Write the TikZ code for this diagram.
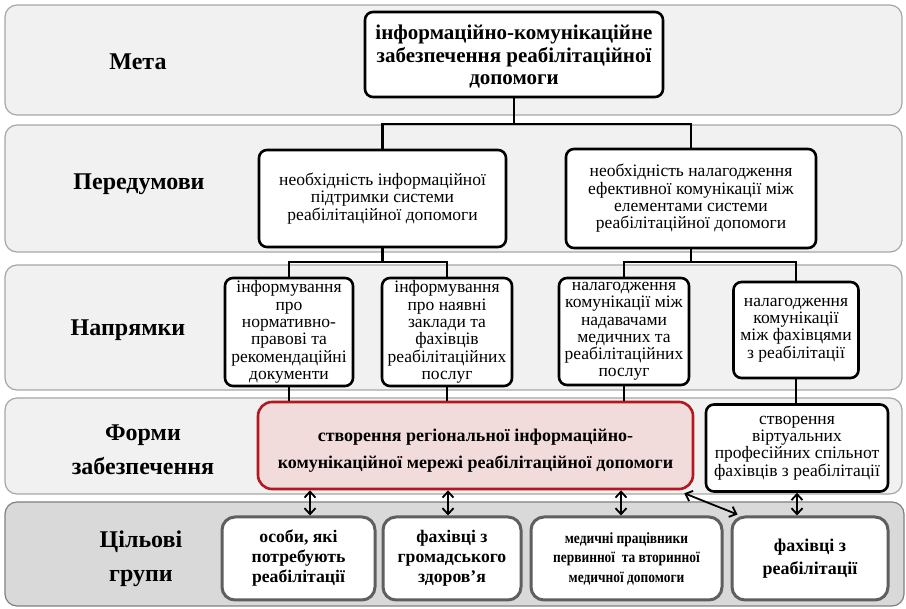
\documentclass[tikz,border=0pt]{standalone}
\usepackage{fontspec}
\setmainfont{Liberation Serif}
\newfontfamily\condfont{Liberation Serif}[FakeStretch=0.86]
\usetikzlibrary{arrows.meta,calc}
\definecolor{bandfill}{HTML}{F1F1F1}
\definecolor{bandline}{HTML}{A6A6A6}
\definecolor{bandfillB}{HTML}{D9D9D9}
\definecolor{bandlineB}{HTML}{808080}
\definecolor{gline}{HTML}{5F5F5F}
\definecolor{redfill}{HTML}{F2DCDB}
\definecolor{redline}{HTML}{B3181E}
\newcommand\myfs[2]{\fontsize{#1}{#2}\selectfont}
\begin{document}
\begin{tikzpicture}[x=1pt,y=-1pt,
  band/.style={draw=bandline, fill=bandfill, line width=1.2pt, rounded corners=12pt, inner sep=0pt},
  bandB/.style={draw=bandlineB, fill=bandfillB, line width=1.2pt, rounded corners=12pt, inner sep=0pt},
  lbl/.style={align=center, font=\myfs{24}{34}\bfseries, inner sep=0pt},
  box/.style={draw, line width=2.6pt, rounded corners=8pt, fill=white, align=center, inner sep=0pt, font=\myfs{17.5}{17.3}},
  redbox/.style={draw=redline, fill=redfill, line width=2.6pt, rounded corners=14pt, inner sep=0pt},
  redtext/.style={align=center, inner sep=0pt, font=\myfs{18}{27}\bfseries},
  gbox/.style={draw=gline, line width=3pt, rounded corners=13pt, fill=white, align=center, inner sep=0pt, font=\myfs{17.7}{20}\bfseries},
  conn/.style={line width=2.6pt},
  dbl/.style={line width=1.8pt, {Straight Barb[length=6pt,width=11pt]}-{Straight Barb[length=6pt,width=11pt]}}
]
\useasboundingbox (0,0) rectangle (906,609);
% bands
\draw[band] (5,5) rectangle (902,115);
\draw[band] (5,125) rectangle (902,252);
\draw[band] (5,265) rectangle (902,390);
\draw[band] (5,398) rectangle (902,494);
\draw[bandB] (5,502) rectangle (904,606);
% labels
\node[lbl] (lmeta) at (138,62) {Мета};
\node[lbl] (lpered) at (139,184) {Передумови};
\node[lbl] (lnapr) at (128,330) {Напрямки};
\node[lbl] (lform) at (143,450) {Форми\\забезпечення};
\node[lbl] (lcil) at (141,559) {Цільові\\групи};
% boxes
\node[box, minimum width=298, minimum height=85] (top) at (514,54.5) {};
\node[align=center, inner sep=0pt, font=\myfs{21}{22.5}\bfseries] (toptext) at (514,57) {інформаційно-комунікаційне\\забезпечення реабілітаційної\\допомоги};
\node[box, minimum width=247, minimum height=97] (p1) at (382.5,198.5) {необхідність інформаційної\\підтримки системи\\реабілітаційної допомоги};
\node[box, minimum width=250, minimum height=99] (p2) at (691,198.5) {необхідність налагодження\\ефективної комунікації між\\елементами системи\\реабілітаційної допомоги};
\node[box, minimum width=128, minimum height=108] (n1) at (289,332) {інформування\\про\\нормативно-\\правові та\\рекомендаційні\\документи};
\node[box, minimum width=130, minimum height=108] (n2) at (447,332) {інформування\\про наявні\\заклади та\\фахівців\\реабілітаційних\\послуг};
\node[box, minimum width=130, minimum height=107] (n3) at (624,331.5) {налагодження\\комунікації між\\надавачами\\медичних та\\реабілітаційних\\послуг};
\node[box, minimum width=125, minimum height=96] (n4) at (796,330) {налагодження\\комунікації\\між фахівцями\\з реабілітації};
\node[redbox, minimum width=435, minimum height=87] (red) at (475.5,445.5) {};
\node[redtext] (redtxt) at (475.5,451) {створення регіональної інформаційно-\\комунікаційної мережі реабілітаційної допомоги};
\node[box, minimum width=182, minimum height=87] (f2) at (797,448) {створення\\віртуальних\\професійних спільнот\\фахівців з реабілітації};
\node[gbox, minimum width=153, minimum height=83] (g1) at (298.5,558.5) {особи, які\\потребують\\реабілітації};
\node[gbox, minimum width=138, minimum height=83] (g2) at (452,558.5) {фахівці з\\громадського\\здоров’я};
\node[gbox, minimum width=191, minimum height=83, font=\condfont\myfs{15.6}{19.5}\bfseries] (g3) at (626.5,558.5) {медичні працівники\\первинної~ та вторинної\\медичної допомоги};
\node[gbox, minimum width=156, minimum height=83, font=\myfs{18}{23}\bfseries] (g4) at (810,558.5) {фахівці з\\реабілітації};
% tree lines
\coordinate (ty) at (0,124);
\coordinate (ny) at (0,262);
\draw[conn] (top.south) -- (top.south |- ty);
\draw[conn] (p1.north) |- (p2.north |- ty) -- (p2.north);
\draw[conn] (p1.south) -- (p1.south |- ny);
\draw[conn] (n1.north) |- (n2.north |- ny) -- (n2.north);
\draw[conn] (p2.south) -- (p2.south |- ny);
\draw[conn] (n3.north) |- (n4.north |- ny) -- (n4.north);
\draw[conn] (n1.south) -- (n1.south |- red.north);
\draw[conn] (n2.south) -- (n2.south |- red.north);
\draw[conn] (n3.south) -- (n3.south |- red.north);
\draw[conn] (n4.south) -- (n4.south |- f2.north);
% arrows
\coordinate (a1) at (310,0);
\coordinate (a2) at (448,0);
\coordinate (a3) at (621,0);
\draw[dbl] (red.south -| a1) -- (g1.north -| a1);
\draw[dbl] (red.south -| a2) -- (g2.north -| a2);
\draw[dbl] (red.south -| a3) -- (g3.north -| a3);
\draw[dbl] (f2.south) -- (f2.south |- g4.north);
\draw[dbl] ($(red.south east)+(-10,3)$) -- ($(g4.north west)+(7,-1)$);
\end{tikzpicture}
\end{document}
